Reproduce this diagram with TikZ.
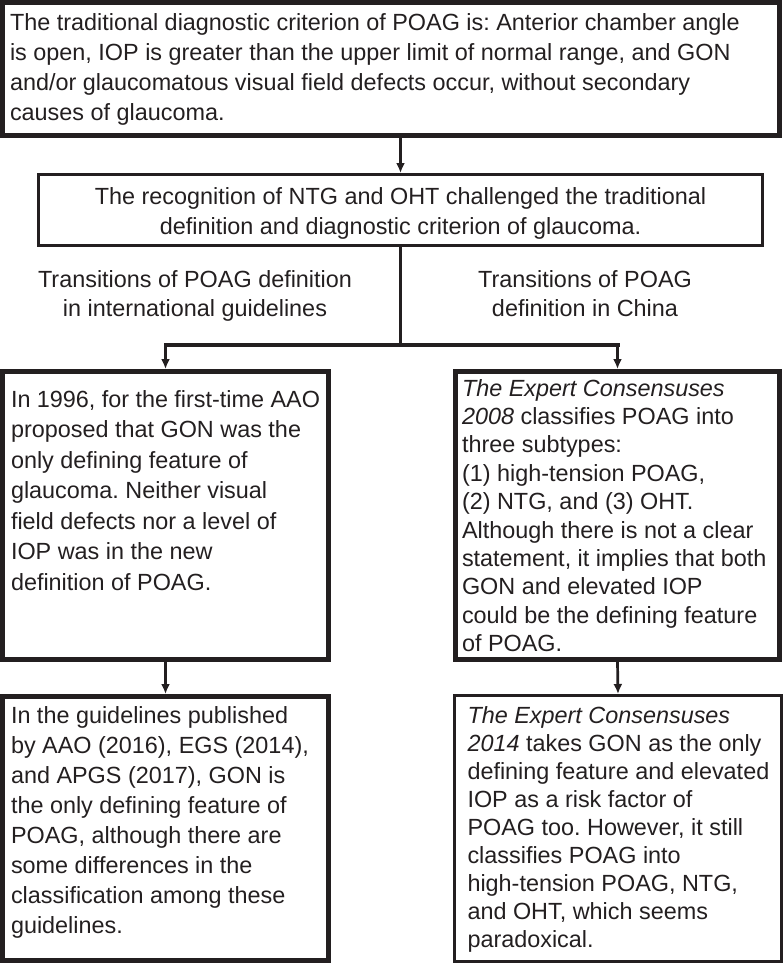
\documentclass[tikz,border=0pt]{standalone}
\usepackage{fontspec}
\setmainfont{Liberation Sans}
\usetikzlibrary{arrows.meta}
\definecolor{ink}{HTML}{231F20}
\frenchspacing
\newcommand{\bxt}[6]{\parbox[c][#2pt][t]{#1pt}{\fontsize{23.4pt}{#5pt}\selectfont#3\rule{0pt}{#4pt}#6}}
\begin{document}
\begin{tikzpicture}[x=1pt,y=-1pt,
  every node/.style={text=ink, font=\fontsize{23.4pt}{28.2pt}\selectfont},
  thickbox/.style={draw=ink, line width=5pt, inner sep=0pt},
  thinbox/.style={draw=ink, line width=3pt, inner sep=0pt},
  lbl/.style={inner sep=0pt, anchor=north},
  conn/.style={draw=ink, line width=2.7pt, -{Latex[length=10pt,width=9pt]}},
  plainline/.style={draw=ink, line width=2.7pt},
  hline/.style={draw=ink, line width=4pt, line cap=rect}]
\useasboundingbox (0,0) rectangle (784,964);

\node[thickbox, minimum width=777pt, minimum height=133pt] (b1) at (391,69)
 {\bxt{762}{133}{\raggedright}{27.5}{30}{The traditional diagnostic criterion of POAG is: Anterior chamber angle\\
is open, IOP is greater than the upper limit of normal range, and GON\\
and/or glaucomatous visual field defects occur, without secondary\\
causes of glaucoma.}};

\node[thinbox, minimum width=724pt, minimum height=71pt] (b2) at (400.5,210)
 {\bxt{724}{71}{\centering}{30}{29.5}{The recognition of NTG and OHT challenged the traditional\\
definition and diagnostic criterion of glaucoma.}};

\node[lbl] (l1) at (195,267) {\bxt{330}{60}{\centering}{20}{29.5}{Transitions of POAG definition\\ in international guidelines}};
\node[lbl] (l2) at (585,267) {\bxt{330}{60}{\centering}{20}{29.5}{Transitions of POAG\\ definition in China}};

\node[thickbox, minimum width=326pt, minimum height=288pt] (b3l) at (165.5,515.5)
 {\bxt{309}{288}{\raggedright}{35.5}{30.5}{In 1996, for the first-time AAO\\
proposed that GON was the\\
only defining feature of\\
glaucoma. Neither visual\\
field defects nor a level of\\
IOP was in the new\\
definition of POAG.}};

\node[thickbox, minimum width=324pt, minimum height=288pt] (b3r) at (617.5,515.5)
 {\bxt{311}{288}{\raggedright}{24.5}{28.4}{\textit{The Expert Consensuses}\\
\textit{2008} classifies POAG into\\
three subtypes:\\
(1) high-tension POAG,\\
(2) NTG, and (3) OHT.\\
Although there is not a clear\\
statement, it implies that both\\
GON and elevated IOP\\
could be the defining feature\\
of POAG.}};

\node[thickbox, minimum width=326pt, minimum height=264pt] (b4l) at (165.5,828.5)
 {\bxt{309}{264}{\raggedright}{27}{30}{In the guidelines published\\
by AAO (2016), EGS (2014),\\
and APGS (2017), GON is\\
the only defining feature of\\
POAG, although there are\\
some differences in the\\
classification among these\\
guidelines.}};

\node[thinbox, minimum width=327pt, minimum height=266pt] (b4r) at (618,828.5)
 {\bxt{309}{266}{\raggedright\leftskip=4pt}{27.5}{28}{\textit{The Expert Consensuses}\\
\textit{2014} takes GON as the only\\
defining feature and elevated\\
IOP as a risk factor of\\
POAG too. However, it still\\
classifies POAG into\\
high-tension POAG, NTG,\\
and OHT, which seems\\
paradoxical.}};

\coordinate (j) at (400.5,345);
\draw[conn] (b2.north |- b1.south) -- (b2.north);
\draw[plainline] (b2.south) -- (j);
\draw[hline] (j -| b3l.north) -- (j -| b3r.north);
\draw[conn] (j -| b3l.north) -- (b3l.north);
\draw[conn] (j -| b3r.north) -- (b3r.north);
\draw[conn] (b3l.south) -- (b4l.north);
\draw[conn] (b3r.south) -- (b4r.north);
\end{tikzpicture}
\end{document}
